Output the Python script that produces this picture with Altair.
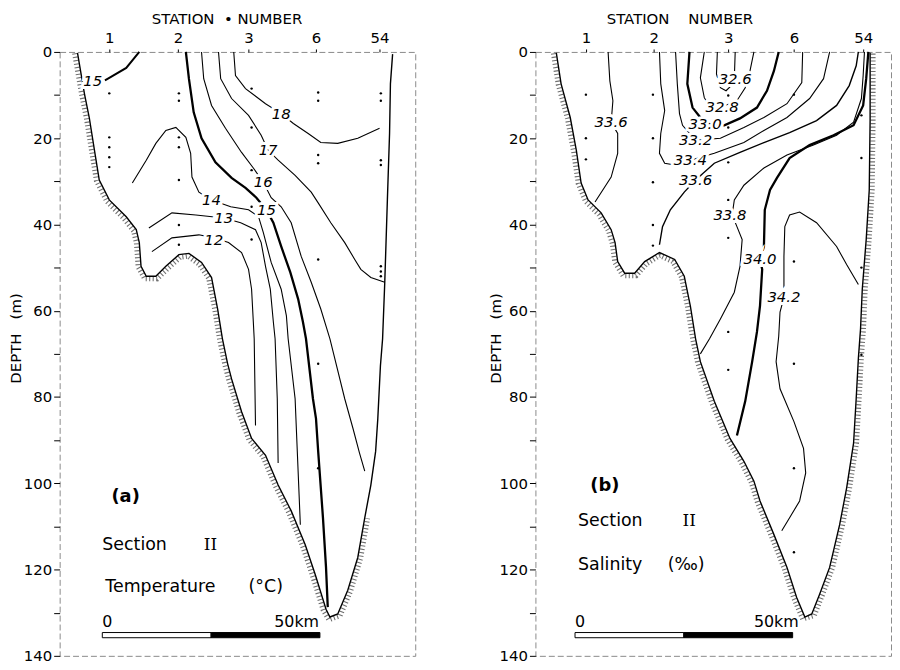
import altair as alt
import numpy as np
import pandas as pd

# ---------------- data (km along section, depth in m) ----------------
STATION_LABELS = ["1", "2", "3", "6", "54"]
STATION_KM_T = [11.4, 27.2, 43.4, 58.9, 73.5]
STATION_KM_S = [11.6, 27.2, 44.3, 59.4, 75.3]

# bottom profile, panel (a)
PROF_T_KM = [4.1, 5.7, 6.8, 8.0, 9.1, 11.4, 15.3, 17.6, 18.3, 18.7, 19.9, 22.1, 24.4, 27.4, 29.7,
             32.6, 34.9, 36.3, 37.4, 38.6, 39.5, 41.8, 44.1, 47.3, 50.2, 53.2, 56.4, 58.7, 61.2, 62.1,
             63.9, 66.2, 68.5, 70.1, 71.5, 72.6, 73.1, 73.7, 74.2, 74.7, 75.3, 75.8, 76.0, 76.5]
PROF_T_M = [0.2, 9.7, 15.2, 22.8, 29.7, 34.3, 38.2, 41.2, 44.2, 49.7, 52.0, 52.0, 49.7, 47.0, 46.7,
            48.8, 52.3, 59.6, 66.5, 72.3, 75.8, 83.4, 89.6, 93.5, 100.4, 106.4, 114.2, 121.1, 129.2, 131.0,
            130.3, 124.8, 117.2, 108.0, 100.4, 92.6, 85.0, 72.8, 66.5, 53.4, 34.3, 18.9, 7.4, 0.5]

# isotherms (deg C)
T15A_KM = [18.3, 15.3, 11.4, 10.4]
T15A_M = [0.0, 3.7, 6.0, 6.6]
T18_KM = [40.0, 40.4, 42.7, 47.3, 50.9, 53.7, 57.1, 60.0, 63.9, 68.5, 73.5]
T18_M = [0.0, 5.5, 8.5, 12.0, 14.3, 16.6, 18.9, 21.0, 21.2, 20.0, 17.7]
T17_KM = [36.5, 37.0, 39.5, 43.4, 46.3, 47.9, 50.2, 54.1, 57.8, 59.4, 62.3, 65.5, 67.8, 69.2, 71.5, 74.7]
T17_M = [0.0, 6.2, 10.8, 14.7, 19.3, 22.8, 25.1, 28.6, 32.5, 35.0, 39.6, 44.2, 48.1, 50.4, 52.3, 53.4]
T16_KM = [32.6, 33.1, 34.9, 38.1, 41.8, 44.5, 46.8, 48.6, 50.9, 53.2, 55.5, 57.8, 60.0, 62.1, 65.5, 67.4, 68.9, 70.1]
T16_M = [0.0, 6.2, 12.4, 17.7, 23.3, 26.9, 30.2, 33.8, 35.9, 39.6, 47.4, 53.4, 59.6, 66.5, 80.4, 87.3, 93.0, 97.2]
T15_KM = [29.0, 29.7, 30.8, 32.6, 35.8, 39.5, 42.7, 45.2, 47.5, 49.1, 50.9, 53.0, 54.8, 55.9, 56.6, 58.2,
          58.9, 59.4, 60.5, 61.2, 61.6]
T15_M = [0.0, 6.2, 14.0, 20.0, 25.6, 29.2, 31.5, 33.8, 36.6, 39.6, 45.1, 51.1, 57.3, 62.6, 66.5, 80.4,
         85.0, 92.6, 108.0, 119.5, 128.7]
T14_KM = [16.7, 19.9, 22.1, 24.4, 26.7, 29.0, 30.1, 30.4, 32.0, 34.9, 39.3, 43.4, 45.7, 46.8, 48.6, 50.9,
          52.1, 52.5, 54.1, 55.3]
T14_M = [30.4, 25.1, 21.2, 18.2, 17.5, 19.8, 23.5, 29.0, 32.5, 34.3, 35.9, 36.6, 38.2, 41.9, 48.8, 55.0,
         61.2, 66.5, 80.4, 109.6]
T13_KM = [20.5, 25.8, 31.3, 37.7, 41.6, 45.0, 46.3, 47.3, 48.4, 49.1, 49.5, 50.0, 50.2]
T13_M = [40.8, 37.3, 37.8, 38.5, 39.6, 41.2, 44.2, 49.7, 55.0, 62.6, 66.5, 80.4, 95.3]
T12_KM = [21.2, 25.8, 32.0, 35.4, 38.8, 41.8, 43.4, 44.1, 44.5, 44.7, 45.0]
T12_M = [46.3, 43.1, 42.4, 43.1, 44.2, 46.5, 50.4, 55.0, 62.6, 66.5, 86.6]

T_LABELS = ["15", "18", "17", "16", "15", "14", "13", "12"]
T_LABEL_KM = [7.6, 50.9, 47.9, 46.8, 47.5, 34.9, 37.7, 35.4]
T_LABEL_M = [6.8, 14.3, 22.8, 30.2, 36.6, 34.3, 38.5, 43.5]

# bottom profile, panel (b)
PROF_S_KM = [4.8, 5.9, 8.0, 9.4, 10.5, 12.1, 15.1, 17.4, 18.3, 18.9, 20.5, 22.8, 25.1, 28.5, 32.0,
             34.2, 35.6, 36.8, 37.9, 41.1, 44.7, 47.9, 50.2, 51.6, 54.8, 57.8, 60.0, 61.9, 63.5, 65.3,
             67.6, 69.9, 71.5, 73.1, 73.7, 74.2, 74.7, 75.1, 76.0, 76.7, 76.9, 76.9]
PROF_S_M = [0.2, 7.4, 15.2, 22.8, 30.4, 34.3, 37.3, 41.2, 44.2, 48.6, 51.3, 51.3, 48.6, 46.5, 48.1,
            52.0, 58.9, 66.5, 71.8, 81.0, 89.6, 94.9, 99.5, 104.1, 111.9, 119.5, 126.4, 131.0, 130.3, 125.7,
            119.5, 109.6, 101.1, 90.7, 80.4, 71.1, 64.2, 55.0, 43.5, 32.0, 15.9, 0.2]

# isohalines (per mille)
S326_KM = [41.8, 41.6, 42.5, 43.8, 44.7, 45.7, 45.9]
S326_M = [0.0, 5.1, 8.3, 9.0, 8.1, 6.2, 0.0]
S328_KM = [38.8, 37.9, 38.8, 40.2, 42.9, 46.3, 48.2, 49.3, 50.2]
S328_M = [0.0, 6.0, 10.6, 12.9, 12.7, 11.3, 8.3, 4.4, 0.0]
S330_KM = [35.4, 34.9, 36.1, 37.9, 39.0, 43.4, 47.0, 50.9, 53.2, 54.8, 55.9]
S330_M = [0.0, 7.4, 12.9, 15.2, 16.6, 17.0, 15.4, 12.9, 9.0, 4.4, 0.0]
S332_KM = [32.2, 32.6, 33.1, 33.8, 36.8, 42.5, 47.9, 52.5, 57.8, 61.2, 61.4]
S332_M = [0.0, 7.4, 14.3, 17.0, 20.5, 20.0, 17.5, 15.2, 12.0, 7.1, 0.0]
S334_KM = [28.5, 28.8, 29.7, 28.8, 28.5, 29.7, 32.0, 35.6, 41.1, 47.9, 52.5, 57.8, 63.0, 66.2, 67.6]
S334_M = [0.0, 7.4, 13.6, 18.9, 23.5, 25.8, 26.2, 25.1, 23.5, 21.0, 18.2, 15.2, 10.8, 6.2, 0.0]
S336A_KM = [16.7, 17.1, 17.8, 17.4, 18.9, 18.9, 17.4, 13.7]
S336A_M = [0.0, 6.7, 11.3, 16.3, 18.9, 23.5, 29.0, 34.8]
S336B_KM = [28.5, 29.2, 31.0, 34.2, 36.8, 41.1, 47.0, 52.5, 58.4, 64.6, 69.2, 72.1, 73.7, 74.2]
S336B_M = [44.7, 40.5, 36.6, 32.5, 29.7, 25.8, 23.3, 21.0, 18.7, 15.9, 12.4, 7.8, 3.2, 0.0]
S338_KM = [37.9, 40.0, 42.5, 45.7, 47.0, 47.5, 46.3, 45.2, 45.7, 47.9, 52.5, 57.8, 63.9, 69.2, 73.1,
           74.9, 75.3, 75.6]
S338_M = [70.0, 66.5, 61.9, 55.7, 49.7, 43.5, 40.5, 37.8, 34.3, 30.9, 26.9, 23.9, 21.6, 19.3, 16.3,
          10.8, 5.5, 0.0]
S340_KM = [46.3, 48.2, 49.8, 50.9, 51.6, 52.1, 51.6, 52.5, 52.7, 53.9, 55.5, 58.4, 63.0, 68.5, 73.1,
           75.3, 76.0, 76.5]
S340_M = [88.9, 81.0, 71.8, 64.9, 58.9, 50.4, 48.1, 45.1, 36.6, 32.0, 29.2, 24.6, 21.6, 19.3, 17.0,
          12.4, 6.2, 0.0]
S342_KM = [74.2, 71.5, 69.2, 64.6, 60.7, 58.4, 57.3, 57.1, 57.1, 57.1, 56.2, 55.9, 55.3, 56.2, 59.4,
           61.6, 62.1, 60.7, 58.4, 56.6]
S342_M = [53.9, 49.3, 45.1, 39.6, 37.1, 37.8, 40.5, 47.4, 52.7, 56.9, 60.3, 65.9, 71.8, 78.1, 85.7,
          91.9, 97.6, 104.1, 108.0, 111.0]

S_LABELS = ["32.6", "32.8", "33.0", "33.2", "33.4", "33.6", "33.6", "33.8", "34.0", "34.2"]
S_LABEL_KM = [45.9, 42.9, 39.0, 36.8, 35.6, 36.8, 17.4, 44.7, 51.6, 57.1]
S_LABEL_M = [6.2, 12.7, 16.6, 20.5, 25.1, 29.7, 16.3, 37.8, 48.1, 56.9]

# sampling depths at each station
DOTS_T = {
    11.4: [9.6, 19.8, 22.1, 24.4, 26.7],
    27.4: [9.6, 11.3, 19.8, 22.1, 29.7, 40.1, 44.7],
    44.1: [8.5, 17.5, 27.4, 35.9, 43.5],
    59.4: [9.4, 11.3, 23.9, 25.8, 48.1, 72.3, 96.5],
    73.8: [9.6, 11.3, 25.1, 26.2, 49.7, 50.9, 52.0],
}
DOTS_S = {
    11.6: [9.9, 20.0, 24.9],
    27.0: [9.9, 20.0, 30.2, 40.1, 44.9],
    44.3: [10.1, 17.5, 25.6, 34.3, 43.1, 64.9, 73.7],
    59.4: [9.9, 48.6, 72.3, 96.5, 116.0],
    74.9: [14.7, 24.6, 50.0, 70.2],
}

# scale bar: 0-25 km open, 25-50 km filled
BAR_SEG_START = [0, 25]
BAR_SEG_END = [25, 50]
BAR_FILL = ["white", "black"]
BAR_ORIGIN_T = 9.8
BAR_ORIGIN_S = 9.1
BAR_DEPTH = [134.6, 135.8]

T_TEXT = ["Section", "Temperature", "(°C)"]
T_TEXT_KM = [9.8, 10.5, 43.4]
T_TEXT_M = [114.2, 124.1, 124.1]
S_TEXT = ["Section", "Salinity", "(‰)"]
S_TEXT_KM = [9.8, 9.8, 30.4]
S_TEXT_M = [108.7, 119.0, 119.0]

FONT = "DejaVu Sans"
W, H = 358, 608
KM_MAX = 81.7
PX_PER_KM = W / KM_MAX
PX_PER_M = H / 140.0
HATCH_OFFSET_PX = 3.0


def contour_df(items):
    rows = []
    for name, kms, ms, w in items:
        for i, (k, m) in enumerate(zip(kms, ms)):
            rows.append({"c": name, "i": i, "km": k, "m": m, "w": w})
    return pd.DataFrame(rows)


def hatch_df(kms, ms):
    """Copy of the bottom line pushed a few pixels toward the land side."""
    x = np.array(kms) * PX_PER_KM
    y = np.array(ms) * PX_PER_M
    dx = np.gradient(x)
    dy = np.gradient(y)
    n = np.hypot(dx, dy)
    n[n == 0] = 1
    nx, ny = -dy / n, dx / n
    return pd.DataFrame({"km": (x + nx * HATCH_OFFSET_PX) / PX_PER_KM,
                         "m": (y + ny * HATCH_OFFSET_PX) / PX_PER_M,
                         "i": range(len(kms))})


def panel(contours, prof_km, prof_m, hatch_end, labels, lab_km, lab_m, dots,
          st_km, xtitle, xtitle_x, ytitle_x, bar_origin, bar_label_end,
          texts, text_km, text_m, tag, tag_km, tag_m, roman_km, roman_m):
    xs = alt.Scale(domain=[0, KM_MAX], nice=False, zero=False)
    ys = alt.Scale(domain=[0, 140], reverse=True, nice=False, zero=False)
    expr = "''"
    for k, l in reversed(list(zip(st_km, STATION_LABELS))):
        expr = f"abs(datum.value - {k}) < 0.5 ? '{l}' : {expr}"
    xax = alt.Axis(orient="top", values=st_km, labelExpr=expr, title=xtitle,
                   titleX=xtitle_x, titleY=-34, titleAlign="center", titleBaseline="middle",
                   tickSize=3, domain=False, grid=False, labelFontSize=15, titleFontSize=15,
                   titleFontWeight="normal", labelPadding=3)
    yax = alt.Axis(values=list(range(0, 141, 10)),
                   labelExpr="datum.value % 20 === 0 ? datum.label : ''",
                   title="DEPTH\u00a0\u00a0\u00a0(m)", titleX=ytitle_x, titleY=288, titleAngle=270,
                   titleAlign="center", titleBaseline="middle",
                   tickSize=6, domain=False, grid=False, labelFontSize=15, titleFontSize=15,
                   titleFontWeight="normal", labelPadding=2)
    X = alt.X("km:Q", scale=xs, axis=xax)
    Y = alt.Y("m:Q", scale=ys, axis=yax)

    prof = pd.DataFrame({"km": prof_km, "m": prof_m, "i": range(len(prof_km))})
    hatch = hatch_df(prof_km, prof_m).iloc[:hatch_end]
    cdf = contour_df(contours)
    ldf = pd.DataFrame({"km": lab_km, "m": lab_m, "t": labels})
    drows = [{"km": k, "m": m} for k, ms in dots.items() for m in ms]
    ddf = pd.DataFrame(drows)
    bdf = pd.DataFrame({"km": [bar_origin + s for s in BAR_SEG_START],
                        "km2": [bar_origin + e for e in BAR_SEG_END],
                        "m": [BAR_DEPTH[0]] * 2, "m2": [BAR_DEPTH[1]] * 2, "f": BAR_FILL})
    sdf = pd.DataFrame({"km": [bar_origin, bar_label_end], "m": [133.9, 133.9], "t": ["0", "50km"],
                        "a": ["left", "right"]})
    tdf = pd.DataFrame({"km": text_km, "m": text_m, "t": texts})
    tagdf = pd.DataFrame({"km": [tag_km], "m": [tag_m], "t": [tag]})
    romdf = pd.DataFrame({"km": [roman_km], "m": [roman_m], "t": ["II"]})

    layers = [
        alt.Chart(hatch).mark_line(color="#707070", strokeWidth=5, strokeDash=[1.1, 2.4])
        .encode(x=X, y=Y, order="i:Q"),
        alt.Chart(prof).mark_line(color="black", strokeWidth=1.4).encode(x=X, y=Y, order="i:Q"),
        alt.Chart(cdf).mark_line(color="black").encode(
            x=X, y=Y, detail="c:N", order="i:Q", strokeWidth=alt.StrokeWidth("w:Q", scale=None)),
        alt.Chart(ddf).mark_circle(size=6, color="black", opacity=1).encode(x=X, y=Y),
        alt.Chart(bdf).mark_rect(stroke="black", strokeWidth=1).encode(
            x=X, x2="km2:Q", y=Y, y2="m2:Q", fill=alt.Fill("f:N", scale=None)),
        alt.Chart(sdf[sdf.a == "left"]).mark_text(font=FONT, fontSize=16, align="left",
                                                  baseline="bottom").encode(x=X, y=Y, text="t:N"),
        alt.Chart(sdf[sdf.a == "right"]).mark_text(font=FONT, fontSize=16, align="right",
                                                   baseline="bottom").encode(x=X, y=Y, text="t:N"),
        alt.Chart(ldf).mark_text(font=FONT, fontSize=15, fontStyle="italic", color="white",
                                 stroke="white", strokeWidth=6).encode(x=X, y=Y, text="t:N"),
        alt.Chart(ldf).mark_text(font=FONT, fontSize=15, fontStyle="italic", color="black")
        .encode(x=X, y=Y, text="t:N"),
        alt.Chart(tdf).mark_text(font=FONT, fontSize=17.5, align="left", color="black")
        .encode(x=X, y=Y, text="t:N"),
        alt.Chart(tagdf).mark_text(font=FONT, fontSize=18, fontWeight="bold", align="left")
        .encode(x=X, y=Y, text="t:N"),
        alt.Chart(romdf).mark_text(font="DejaVu Serif", fontSize=17, align="left")
        .encode(x=X, y=Y, text="t:N"),
    ]
    return alt.layer(*layers).properties(width=W, height=H)


left = panel(
    [("T15a", T15A_KM, T15A_M, 2.0), ("T18", T18_KM, T18_M, 1.1), ("T17", T17_KM, T17_M, 1.1),
     ("T16", T16_KM, T16_M, 1.1), ("T15", T15_KM, T15_M, 2.3), ("T14", T14_KM, T14_M, 1.1),
     ("T13", T13_KM, T13_M, 1.1), ("T12", T12_KM, T12_M, 1.1)],
    PROF_T_KM, PROF_T_M, 34, T_LABELS, T_LABEL_KM, T_LABEL_M, DOTS_T, STATION_KM_T,
    "STATION\u00a0\u00a0•\u00a0NUMBER", 168, -44, BAR_ORIGIN_T, BAR_ORIGIN_T + 49.8,
    T_TEXT, T_TEXT_KM, T_TEXT_M, "(a)", 11.9, 103.2, 33.1, 114.2)

right = panel(
    [("S326", S326_KM, S326_M, 1.1), ("S328", S328_KM, S328_M, 1.1), ("S330", S330_KM, S330_M, 2.3),
     ("S332", S332_KM, S332_M, 1.1), ("S334", S334_KM, S334_M, 1.1), ("S336a", S336A_KM, S336A_M, 1.1),
     ("S336b", S336B_KM, S336B_M, 1.4), ("S338", S338_KM, S338_M, 1.1), ("S340", S340_KM, S340_M, 2.3),
     ("S342", S342_KM, S342_M, 1.1)],
    PROF_S_KM, PROF_S_M, len(PROF_S_KM), S_LABELS, S_LABEL_KM, S_LABEL_M, DOTS_S, STATION_KM_S,
    "STATION\u00a0\u00a0\u00a0\u00a0NUMBER", 145, -40, BAR_ORIGIN_S, BAR_ORIGIN_S + 51.4,
    S_TEXT, S_TEXT_KM, S_TEXT_M, "(b)", 12.6, 100.6, 33.8, 108.7)

chart = (
    alt.hconcat(left, right, spacing=72)
    .properties(padding=0, background="white")
    .configure_view(stroke="#8a8a8a", strokeDash=[6, 3], strokeWidth=1)
    .configure_axis(labelFont=FONT, titleFont=FONT, labelColor="black", titleColor="black",
                    tickColor="black")
)

chart.save("out.html", embed_options={"renderer": "svg", "actions": False})
